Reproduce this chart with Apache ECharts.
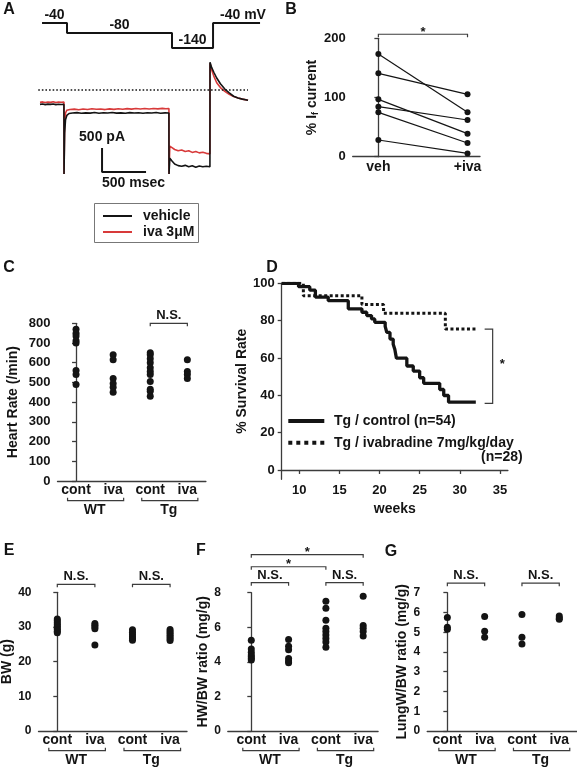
<!DOCTYPE html>
<html><head><meta charset="utf-8">
<script src="https://cdn.jsdelivr.net/npm/echarts@6/dist/echarts.min.js"></script>
<style>html,body{margin:0;padding:0;background:#fff}#c{width:577px;height:771px}</style>
</head><body><div id="c"></div>
<script>
// ================= DATA =================
// Panel A: voltage protocol (time ms, mV)
const protocolVoltage = [[-11,-40],[273,-40],[273,-80],[1466,-80],[1466,-140],[1932,-140],[1932,-40],[2466,-40]];
const protocolLabels = ['-40','-80','-140','-40 mV'];
// Panel A: current traces (time ms, pA)
const vehicleTrace = [[0,-300],[30,-290],[60,-305],[90,-295],[120,-300],[150,-292],[180,-305],[210,-298],[240,-302],[272,-300],
 [273,-1750],[276,-1750],[280,-900],[290,-620],[305,-530],[330,-490],[370,-480],[420,-472],[470,-485],[520,-476],[570,-482],[620,-470],[670,-484],[720,-475],[770,-480],[820,-470],[870,-482],[920,-476],[970,-485],[1020,-472],[1070,-480],[1120,-475],[1170,-486],[1220,-474],[1270,-480],[1320,-470],[1370,-484],[1420,-476],[1465,-480],
 [1466,-1750],[1470,-1750],[1475,-1420],[1500,-1480],[1530,-1540],[1570,-1575],[1610,-1590],[1650,-1570],[1690,-1600],[1730,-1580],[1770,-1610],[1810,-1585],[1850,-1600],[1890,-1590],[1931,-1600],
 [1932,580],[1950,470],[1975,370],[2008,250],[2050,130],[2100,20],[2150,-60],[2200,-130],[2250,-165],[2300,-190],[2364,-212]];
const ivaTrace = [[0,-255],[30,-248],[60,-262],[90,-250],[120,-258],[150,-245],[180,-260],[210,-250],[240,-256],[272,-252],
 [273,-1750],[276,-1750],[280,-700],[290,-480],[305,-420],[340,-405],[390,-398],[440,-410],[490,-395],[540,-405],[590,-392],[640,-402],[690,-396],[740,-408],[790,-394],[840,-403],[890,-390],[940,-400],[990,-388],[1040,-398],[1090,-385],[1140,-395],[1190,-386],[1240,-396],[1290,-384],[1340,-394],[1390,-383],[1430,-392],[1465,-388],
 [1466,-1750],[1470,-1750],[1475,-1170],[1500,-1200],[1530,-1240],[1570,-1265],[1610,-1250],[1650,-1280],[1690,-1265],[1730,-1300],[1770,-1280],[1810,-1310],[1850,-1295],[1890,-1320],[1931,-1330],
 [1932,560],[1950,420],[1975,290],[2008,150],[2050,50],[2100,-30],[2150,-90],[2200,-135],[2250,-165],[2300,-190],[2364,-212]];
const scaleBar = [[705,-1208],[705,-1708],[1205,-1708]];
const traceNames = ['vehicle','iva 3\u03bcM'];

// Panel B: % If current, paired
const bCategories = ['veh','+iva'];
const bVeh = [173.5,140.8,96.9,84.5,74.9,28.2];
const bIva = [75.0,105.4,38.9,62.0,23.1,5.6];

// Shared categories for C, E, F, G
const groupCats = ['cont','iva','cont','iva'];
const groupLabels = ['WT','Tg'];

// Panel C: heart rate (/min)
const hrWTcont = [770,750,735,712,700,560,540,490];
const hrWTiva  = [640,615,520,495,475,450];
const hrTgcont = [650,640,620,600,575,555,540,505,465,455,430];
const hrTgiva  = [615,555,540,520];

// Panel D: survival (weeks, %)
const survWeeksTicks = [10,15,20,25,30,35];
const survControl = [[7.8,100],[9.9,98.2],[11.3,96.3],[12,92.6],[13.6,90.7],[16.1,86.3],[17.8,84.5],[18.4,82.7],[19,80.9],[19.4,79.1],[20.7,76.9],[20.9,73.7],[21.3,70.1],[21.7,67.4],[21.9,64.7],[22.1,59.9],[23.4,55.7],[24.2,53.0],[25,49.4],[25.5,46.4],[27.5,43.1],[28,39.9],[28.6,36.3],[32,36.3]];
const survIva = [[7.8,100],[10.5,93.3],[17.8,88.6],[20.5,84.0],[28.2,75.5],[32,75.5]];
const survTicks = [0,20,40,60,80,100];

// Panel E: BW (g)
const bwWTcont = [32.3,31.8,31.2,30.7,30.2,29.7,29.3,28.8,28.3];
const bwWTiva  = [31.0,30.5,30.0,29.5,24.8];
const bwTgcont = [29.2,28.5,27.8,27.2,26.7,26.2];
const bwTgiva  = [29.3,28.7,28.2,27.6,27.1,26.6,26.1];

// Panel F: HW/BW (mg/g)
const hwWTcont = [5.25,4.75,4.55,4.4,4.3,4.2,4.1];
const hwWTiva  = [5.3,4.9,4.7,4.2,4.05,3.95];
const hwTgcont = [7.5,7.1,6.4,5.95,5.75,5.55,5.35,5.15,4.85];
const hwTgiva  = [7.8,6.1,5.95,5.75,5.5];

// Panel G: LungW/BW (mg/g)
const lwWTcont = [5.75,5.25,5.15];
const lwWTiva  = [5.8,5.05,4.75];
const lwTgcont = [5.9,4.75,4.4];
const lwTgiva  = [5.82,5.72,5.65];

// ================= STYLE =================
const FONT = '"Liberation Sans", Arial, Helvetica, sans-serif';
const INK = '#141414';
const AXC = '#3c3c3c';
const RED = '#d83a3a';

const grids = [
  {left:41.24, top:20.5, width:218.8, height:30},      // 0 A protocol
  {left:38.24, top:58.8, width:209.8, height:115.2},   // 1 A traces
  {left:352.7, top:38.3, width:127.3, height:118.4},   // 2 B
  {left:57.5,  top:323.3, width:148.4, height:157.7},  // 3 C
  {left:281.7, top:283.3, width:226.2, height:196},    // 4 D
  {left:38.5,  top:592.3, width:148.5, height:138.7},  // 5 E
  {left:227.8, top:592.7, width:150.3, height:138.3},  // 6 F
  {left:427.2, top:592.7, width:149.6, height:138.3}   // 7 G
].map(g => Object.assign({containLabel:false, outerBoundsMode:'none'}, g));

const axLine = {show:true, lineStyle:{color:AXC, width:1.3}};
const axTick = {show:true, length:4, inside:false, lineStyle:{color:AXC, width:1.3}};
const lbl = (size, margin) => ({show:true, fontSize:size, fontWeight:'bold', color:INK, fontFamily:FONT, margin:margin});

function yVal(gi, min, max, interval, size, name, gap, extra) {
  return Object.assign({
    type:'value', gridIndex:gi, min:min, max:max, interval:interval,
    axisLine:axLine, axisTick:axTick, splitLine:{show:false},
    axisLabel:lbl(size, 7),
    name:name, nameLocation:'middle', nameGap:gap,
    nameTextStyle:{fontSize:14, fontWeight:'bold', color:INK, fontFamily:FONT}
  }, extra || {});
}
function xCat(gi, min, max) {
  return {type:'value', gridIndex:gi, min:min, max:max,
    axisLine:axLine, axisTick:{show:false}, splitLine:{show:false},
    axisLabel:Object.assign(lbl(14, 2), {customValues:[0,1,2,3], formatter:v => groupCats[Math.round(v)]})};
}
function xGroup(gi, min, max) {
  return {type:'value', gridIndex:gi, min:min, max:max, position:'bottom',
    axisLine:{show:false}, axisTick:{show:false}, splitLine:{show:false},
    axisLabel:Object.assign(lbl(14, 22), {customValues:[0.5,2.5], formatter:v => groupLabels[Math.round((v-0.5)/2)]})};
}
const pts = (arr, i) => arr.map(v => [i, v]);
function scatterSeries(xi, yi, groups) {
  return {type:'scatter', xAxisIndex:xi, yAxisIndex:yi, symbol:'circle', symbolSize:7,
    itemStyle:{color:INK, opacity:1}, data:[].concat(...groups.map((g,i) => pts(g,i))), silent:true};
}

const xAxes = [
  {type:'value', gridIndex:0, min:-20, max:2466, show:false},
  {type:'value', gridIndex:1, min:-20, max:2364, show:false},
  {type:'value', gridIndex:2, min:-0.288, max:1.14, axisLine:axLine, axisTick:{show:false}, splitLine:{show:false},
    axisLabel:Object.assign(lbl(14, 3), {customValues:[0,1], formatter:v => bCategories[Math.round(v)]})},
  xCat(3, -0.5, 3.5), xGroup(3, -0.5, 3.5),
  {type:'value', gridIndex:4, min:7.8, max:36, axisLine:axLine,
    axisTick:Object.assign({}, axTick, {customValues:survWeeksTicks}), splitLine:{show:false},
    axisLabel:Object.assign(lbl(13, 5), {customValues:survWeeksTicks}),
    name:'weeks', nameLocation:'middle', nameGap:23,
    nameTextStyle:{fontSize:14, fontWeight:'bold', color:INK, fontFamily:FONT}},
  xCat(5, -0.5, 3.45), xGroup(5, -0.5, 3.45),
  xCat(6, -0.63, 3.4), xGroup(6, -0.63, 3.4),
  xCat(7, -0.54, 3.47), xGroup(7, -0.54, 3.47)
];
const yAxes = [
  {type:'value', gridIndex:0, min:-150, max:-30, show:false},
  {type:'value', gridIndex:1, min:-1750, max:650, show:false},
  yVal(2, 0, 200, 100, 13, '% I{s|f} current', 32, {nameTextStyle:{fontSize:14, fontWeight:'bold', color:INK, fontFamily:FONT,
      rich:{s:{fontSize:9, fontWeight:'bold', color:INK, fontFamily:FONT, padding:[7,0,0,0]}}}}),
  yVal(3, 0, 800, 100, 13, 'Heart Rate (/min)', 37),
  yVal(4, -5, 100, 20, 13, '% Survival Rate', 27, {
      axisTick:Object.assign({}, axTick, {customValues:survTicks}),
      axisLabel:Object.assign(lbl(13, 7), {customValues:survTicks})}),
  yVal(5, 0, 40, 10, 12, 'BW (g)', 22),
  yVal(6, 0, 8, 2, 12, 'HW/BW ratio (mg/g)', 11),
  yVal(7, 0, 7, 1, 12, 'LungW/BW ratio (mg/g)', 17)
];

const series = [
  {type:'line', xAxisIndex:0, yAxisIndex:0, data:protocolVoltage, symbol:'none', lineStyle:{color:INK, width:2}, silent:true},
  {type:'line', name:traceNames[1], xAxisIndex:1, yAxisIndex:1, data:ivaTrace, symbol:'none', lineStyle:{color:RED, width:1.6}, itemStyle:{color:RED}, silent:true,
    markLine:{silent:true, symbol:'none', label:{show:false}, lineStyle:{color:INK, type:[1.6,2], width:1.6}, data:[{yAxis:0}]}},
  {type:'line', name:traceNames[0], xAxisIndex:1, yAxisIndex:1, data:vehicleTrace, symbol:'none', lineStyle:{color:INK, width:1.6}, itemStyle:{color:INK}, silent:true},
  {type:'line', xAxisIndex:1, yAxisIndex:1, data:scaleBar, symbol:'none', lineStyle:{color:INK, width:2}, silent:true},
  // B pairs
  ...bVeh.map((v,i) => ({type:'line', xAxisIndex:2, yAxisIndex:2, data:[[0,v],[1,bIva[i]]], symbol:'circle', symbolSize:6,
      lineStyle:{color:INK, width:1.2}, itemStyle:{color:INK, opacity:1}, silent:true})),
  scatterSeries(3, 3, [hrWTcont, hrWTiva, hrTgcont, hrTgiva]),
  {type:'line', xAxisIndex:5, yAxisIndex:4, step:'end', data:survControl, symbol:'none', lineStyle:{color:INK, width:3.3}, silent:true},
  {type:'line', xAxisIndex:5, yAxisIndex:4, step:'end', data:survIva, symbol:'none', lineStyle:{color:INK, width:3, type:[3,2.5]}, silent:true},
  scatterSeries(6, 5, [bwWTcont, bwWTiva, bwTgcont, bwTgiva]),
  scatterSeries(8, 6, [hwWTcont, hwWTiva, hwTgcont, hwTgiva]),
  scatterSeries(10, 7, [lwWTcont, lwWTiva, lwTgcont, lwTgiva])
];

const option = {
  animation:false,
  backgroundColor:'#fff',
  textStyle:{fontFamily:FONT},
  grid:grids, xAxis:xAxes, yAxis:yAxes, series:series
};

const chart = echarts.init(document.getElementById('c'), null, {renderer:'canvas', width:577, height:771});
chart.setOption(option);

// ================= ANNOTATIONS =================
const px = (xi, yi, x, y) => chart.convertToPixel({xAxisIndex:xi, yAxisIndex:yi}, [x, y]);
const G = [];
const txt = (x, y, s, size, align, valign) => G.push({type:'text', x:x, y:y, silent:true,
  style:{text:s, fill:INK, fontSize:size, fontWeight:'bold', fontFamily:FONT, align:align||'center', verticalAlign:valign||'middle'}});
const ln = (pts, w, col, dash) => G.push({type:'polyline', silent:true, shape:{points:pts},
  style:{stroke:col||AXC, lineWidth:w||1.2, fill:null, lineDash:dash||null}});

// panel letters
[['A',9,10],['B',291,10],['C',9,268],['D',272,268],['E',9,551],['F',201,551],['G',391,552]]
  .forEach(([s,x,y]) => txt(x, y, s, 16));

// A: protocol labels
{
  const segs = [[-11,273,-40],[273,1466,-80],[1466,1932,-140]];
  segs.forEach((s,i) => { const p = px(0,0,(s[0]+s[1])/2, s[2]); txt(p[0], p[1]-8, protocolLabels[i], 14); });
  const p = px(0,0,1932,-40); txt(p[0]+7, p[1]-8, protocolLabels[3], 14, 'left');
}
// A: scale bar labels
{
  const top = px(1,1,scaleBar[0][0], scaleBar[0][1]);
  const bot = px(1,1,scaleBar[1][0], scaleBar[1][1]);
  txt(top[0], top[1]-11, '500 pA', 14);
  txt(bot[0], bot[1]+11, '500 msec', 14, 'left');
}
// A: legend box
{
  G.push({type:'rect', silent:true, shape:{x:94.5, y:203.5, width:104, height:39}, style:{stroke:'#777', lineWidth:1, fill:'#fff'}});
  ln([[103,216],[132,216]], 2, INK);
  ln([[103,232],[132,232]], 2, RED);
  txt(143, 216, traceNames[0], 14, 'left');
  txt(143, 232, traceNames[1], 14, 'left');
}

// significance brackets
const sig = [
  [2,2,0,1,206.8,'*'],
  [3,3,2,3,800,'N.S.'],
  [6,5,0,1,42.3,'N.S.'],[6,5,2,3,42.3,'N.S.'],
  [8,6,0,1,8.58,'N.S.'],[8,6,2,3,8.58,'N.S.'],
  [8,6,0,2,9.5,'*'],[8,6,0,3,10.2,'*'],
  [10,7,0,1,7.48,'N.S.'],[10,7,2,3,7.48,'N.S.']
];
sig.forEach(([xi,yi,x1,x2,y,s]) => {
  const a = px(xi,yi,x1,y), b = px(xi,yi,x2,y);
  ln([[a[0],a[1]+3],[a[0],a[1]],[b[0],b[1]],[b[0],b[1]+3]], 1.2);
  if (s === '*') txt((a[0]+b[0])/2, a[1]-2, s, 13);
  else txt((a[0]+b[0])/2, a[1]-7.5, s, 13);
});
// group brackets under categorical axes
[[3,3],[6,5],[8,6],[10,7]].forEach(([xi,yi]) => {
  [[0,1],[2,3]].forEach(([c1,c2]) => {
    const a = px(xi,yi,c1,0), b = px(xi,yi,c2,0);
    const y = a[1] + 19.7;
    ln([[a[0]-8.5,y-3],[a[0]-8.5,y],[b[0]+10.5,y],[b[0]+10.5,y-3]], 1.2);
  });
});
// D bracket
{
  const t = px(5,4,34.1,75.4), bt = px(5,4,34.1,35.7), tl = px(5,4,33.1,75.4);
  ln([[tl[0],t[1]],[t[0],t[1]],[bt[0],bt[1]],[tl[0],bt[1]]], 1.2);
  const s = px(5,4,35.3,56.8); txt(s[0], s[1], '*', 13);
}
// D legend
{
  ln([[288.3,421],[324.3,421]], 4.2, INK);
  txt(334, 421, 'Tg / control (n=54)', 14, 'left');
  ln([[288.3,442.7],[324.3,442.7]], 4, INK, [4,4]);
  txt(334, 442.7, 'Tg / ivabradine 7mg/kg/day', 14, 'left');
  txt(522.7, 457, '(n=28)', 14, 'right');
}
chart.setOption({graphic:G});
</script>
</body></html>
